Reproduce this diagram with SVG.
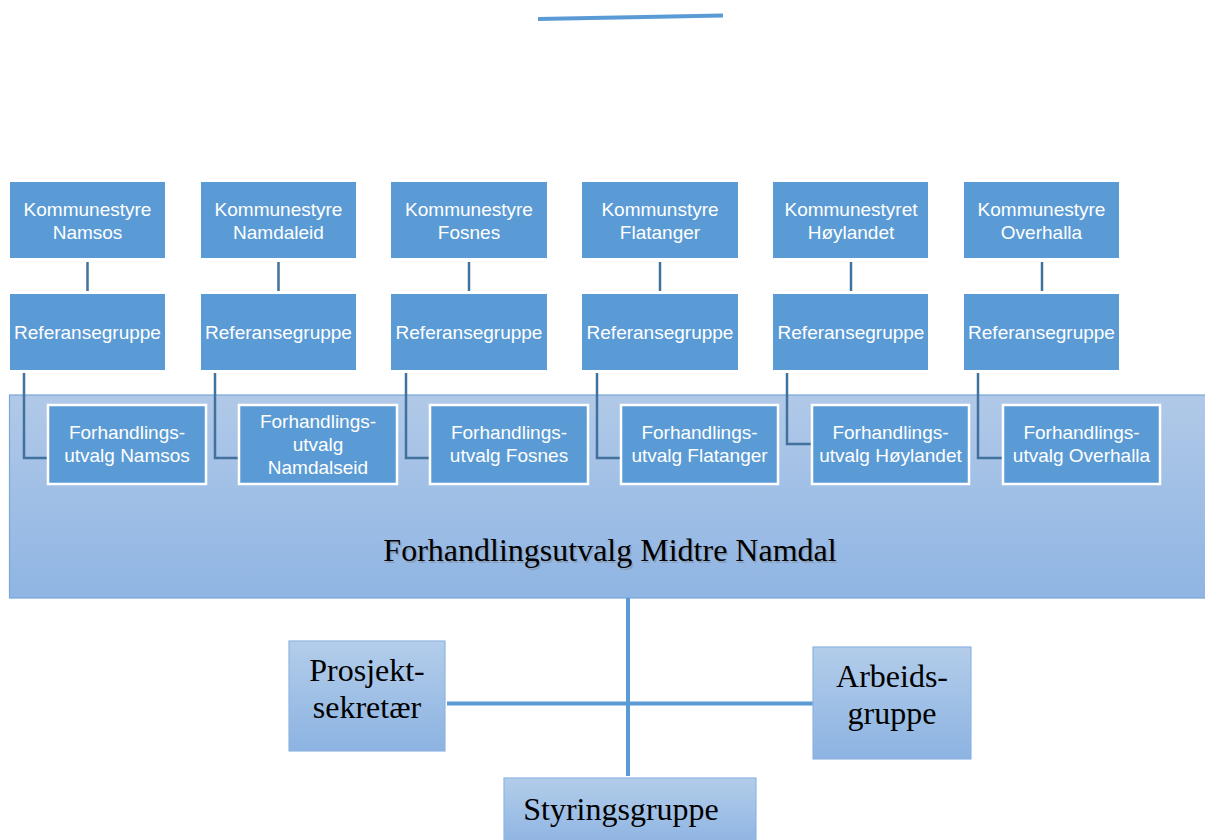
<svg xmlns="http://www.w3.org/2000/svg" width="1205" height="840" viewBox="0 0 1205 840">
<defs>
<linearGradient id="panel" x1="0" y1="0" x2="0" y2="1"><stop offset="0" stop-color="#b1c9e8"/><stop offset="1" stop-color="#8fb5e3"/></linearGradient>
<linearGradient id="lbox" x1="0" y1="0" x2="0" y2="1"><stop offset="0" stop-color="#b3cdea"/><stop offset="1" stop-color="#8cb3e2"/></linearGradient>
<style>
.b{fill:#5b9bd5}
.w{fill:#5b9bd5;stroke:#fff;stroke-width:2.5}
.t{font-family:"Liberation Sans",Arial,sans-serif;font-size:19px;fill:#fff;text-anchor:middle}
.s{font-family:"Liberation Serif","Times New Roman",serif;font-size:32px;fill:#000;text-anchor:middle}
.lb{fill:url(#lbox);stroke:#8fb5e3;stroke-width:1.2}
.c{stroke:#41719c;stroke-width:2.5;fill:none}
.m{stroke:#5b9bd5;stroke-width:4;fill:none}
</style>
</defs>
<rect width="1205" height="840" fill="#fff"/>
<line x1="538" y1="19" x2="723" y2="15.5" class="m"/>
<g id="panel-main">
<rect x="9.5" y="395" width="1200" height="203" fill="url(#panel)" stroke="#7aa6da" stroke-width="1.2"/>
<text x="611.5" y="562.5" class="s" style="fill:#7d8a99;opacity:0.55">Forhandlingsutvalg Midtre Namdal</text>
<text x="610" y="561" class="s">Forhandlingsutvalg Midtre Namdal</text>
</g>
<g id="connectors">
<line x1="87.5" y1="262" x2="87.5" y2="291" class="c"/>
<line x1="278.5" y1="262" x2="278.5" y2="291" class="c"/>
<line x1="469" y1="262" x2="469" y2="291" class="c"/>
<line x1="660" y1="262" x2="660" y2="291" class="c"/>
<line x1="851" y1="262" x2="851" y2="291" class="c"/>
<line x1="1042" y1="262" x2="1042" y2="291" class="c"/>
<polyline points="24,373 24,458 48,458" class="c"/>
<polyline points="215,373 215,458 239,458" class="c"/>
<polyline points="406,373 406,458 430,458" class="c"/>
<polyline points="597,373 597,458 621,458" class="c"/>
<polyline points="787,373 787,444 812,444" class="c"/>
<polyline points="978,373 978,458 1003,458" class="c"/>
<line x1="628" y1="598" x2="628" y2="776" class="m"/>
<line x1="447" y1="703.5" x2="813" y2="703.5" class="m"/>
</g>
<g id="k1"><rect x="10" y="182" width="155" height="76" class="b"/><text x="87.5" y="216" class="t">Kommunestyre</text><text x="87.5" y="238.5" class="t">Namsos</text></g>
<g id="k2"><rect x="201" y="182" width="155" height="76" class="b"/><text x="278.5" y="216" class="t">Kommunestyre</text><text x="278.5" y="238.5" class="t">Namdaleid</text></g>
<g id="k3"><rect x="391" y="182" width="156" height="76" class="b"/><text x="469" y="216" class="t">Kommunestyre</text><text x="469" y="238.5" class="t">Fosnes</text></g>
<g id="k4"><rect x="582" y="182" width="156" height="76" class="b"/><text x="660" y="216" class="t">Kommunstyre</text><text x="660" y="238.5" class="t">Flatanger</text></g>
<g id="k5"><rect x="773" y="182" width="155" height="76" class="b"/><text x="851" y="216" class="t">Kommunestyret</text><text x="851" y="238.5" class="t">Høylandet</text></g>
<g id="k6"><rect x="964" y="182" width="155" height="76" class="b"/><text x="1041.5" y="216" class="t">Kommunestyre</text><text x="1041.5" y="238.5" class="t">Overhalla</text></g>
<g id="r1"><rect x="10" y="294" width="155" height="76" class="b"/><text x="87.5" y="338.5" class="t">Referansegruppe</text></g>
<g id="r2"><rect x="201" y="294" width="155" height="76" class="b"/><text x="278.5" y="338.5" class="t">Referansegruppe</text></g>
<g id="r3"><rect x="391" y="294" width="156" height="76" class="b"/><text x="469" y="338.5" class="t">Referansegruppe</text></g>
<g id="r4"><rect x="582" y="294" width="156" height="76" class="b"/><text x="660" y="338.5" class="t">Referansegruppe</text></g>
<g id="r5"><rect x="773" y="294" width="155" height="76" class="b"/><text x="851" y="338.5" class="t">Referansegruppe</text></g>
<g id="r6"><rect x="964" y="294" width="155" height="76" class="b"/><text x="1041.5" y="338.5" class="t">Referansegruppe</text></g>
<g id="f1"><rect x="48" y="405" width="158" height="79" class="w"/><text x="127" y="439" class="t">Forhandlings-</text><text x="127" y="462" class="t">utvalg Namsos</text></g>
<g id="f2"><rect x="239" y="405" width="158" height="79" class="w"/><text x="318" y="428" class="t">Forhandlings-</text><text x="318" y="451" class="t">utvalg</text><text x="318" y="474" class="t">Namdalseid</text></g>
<g id="f3"><rect x="430" y="405" width="158" height="79" class="w"/><text x="509" y="439" class="t">Forhandlings-</text><text x="509" y="462" class="t">utvalg Fosnes</text></g>
<g id="f4"><rect x="621" y="405" width="157" height="79" class="w"/><text x="699.5" y="439" class="t">Forhandlings-</text><text x="699.5" y="462" class="t">utvalg Flatanger</text></g>
<g id="f5"><rect x="812" y="405" width="157" height="79" class="w"/><text x="890.5" y="439" class="t">Forhandlings-</text><text x="890.5" y="462" class="t">utvalg Høylandet</text></g>
<g id="f6"><rect x="1003" y="405" width="157" height="79" class="w"/><text x="1081.5" y="439" class="t">Forhandlings-</text><text x="1081.5" y="462" class="t">utvalg Overhalla</text></g>
<g id="prosjekt"><rect x="289" y="641" width="156" height="110" class="lb"/><text x="367" y="681" class="s">Prosjekt-</text><text x="367" y="718" class="s">sekretær</text></g>
<g id="arbeid"><rect x="813" y="647" width="158" height="112" class="lb"/><text x="892" y="687" class="s">Arbeids-</text><text x="892" y="724" class="s">gruppe</text></g>
<g id="styring"><rect x="504" y="778" width="252" height="70" class="lb"/><text x="621" y="820" class="s">Styringsgruppe</text></g>
</svg>
